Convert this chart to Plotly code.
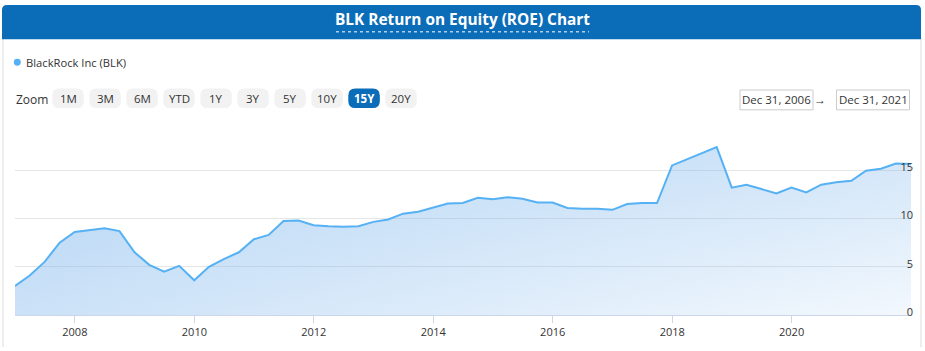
import plotly.graph_objects as go

# ---------------- data ----------------
dates = [
    "2006-12-31",
    "2007-03-31", "2007-06-30", "2007-09-30", "2007-12-31",
    "2008-03-31", "2008-06-30", "2008-09-30", "2008-12-31",
    "2009-03-31", "2009-06-30", "2009-09-30", "2009-12-31",
    "2010-03-31", "2010-06-30", "2010-09-30", "2010-12-31",
    "2011-03-31", "2011-06-30", "2011-09-30", "2011-12-31",
    "2012-03-31", "2012-06-30", "2012-09-30", "2012-12-31",
    "2013-03-31", "2013-06-30", "2013-09-30", "2013-12-31",
    "2014-03-31", "2014-06-30", "2014-09-30", "2014-12-31",
    "2015-03-31", "2015-06-30", "2015-09-30", "2015-12-31",
    "2016-03-31", "2016-06-30", "2016-09-30", "2016-12-31",
    "2017-03-31", "2017-06-30", "2017-09-30", "2017-12-31",
    "2018-03-31", "2018-06-30", "2018-09-30", "2018-12-31",
    "2019-03-31", "2019-06-30", "2019-09-30", "2019-12-31",
    "2020-03-31", "2020-06-30", "2020-09-30", "2020-12-31",
    "2021-03-31", "2021-06-30", "2021-09-30", "2021-12-31",
]
roe = [
    3.0,
    4.1, 5.5, 7.5, 8.6,
    8.8, 9.0, 8.7, 6.5,
    5.2, 4.5, 5.1, 3.6,
    5.0, 5.8, 6.5, 7.85,
    8.3, 9.75, 9.8, 9.3,
    9.2, 9.15, 9.2, 9.65,
    9.9, 10.5, 10.7, 11.1,
    11.55, 11.6, 12.15, 12.0,
    12.2, 12.05, 11.65, 11.65,
    11.1, 11.0, 11.0, 10.9,
    11.5, 11.6, 11.6, 15.5,
    16.1, 16.75, 17.4, 13.2,
    13.5, 13.05, 12.6, 13.2,
    12.7, 13.5, 13.75, 13.9,
    14.95, 15.15, 15.7, 15.65,
]
series_name = "BlackRock Inc (BLK)"
title_text = "BLK Return on Equity (ROE) Chart"
zoom_buttons = ["1M", "3M", "6M", "YTD", "1Y", "3Y", "5Y", "10Y", "15Y", "20Y"]
selected_button = "15Y"
range_start_label = "Dec 31, 2006"
range_end_label = "Dec 31, 2021"
x_range = ["2006-12-31", "2021-12-31"]
y_range = [0, 20]
y_tickvals = [0, 5, 10, 15, 20]
y_ticktext = ["0", "5", "10", "15", ""]

# ---------------- layout geometry (pixels) ----------------
W, H = 925, 351
PL, PR, PT, PB = 15, 911, 122, 320
FONT = "Open Sans"
LINE_COLOR = "#55b1f4"
BLUE = "#0b6db7"
TXT = "#333333"


def px(x):
    return (x - PL) / (PR - PL)


def py(y):
    return (PB - y) / (PB - PT)


def rounded_rect(x0, y0, x1, y1, r, top_only=False):
    rb = 0 if top_only else r
    pts = [
        f"M{px(x0)},{py(y1 - rb)}",
        f"L{px(x0)},{py(y0 + r)}",
        f"Q{px(x0)},{py(y0)} {px(x0 + r)},{py(y0)}",
        f"L{px(x1 - r)},{py(y0)}",
        f"Q{px(x1)},{py(y0)} {px(x1)},{py(y0 + r)}",
        f"L{px(x1)},{py(y1 - rb)}",
    ]
    if rb:
        pts += [
            f"Q{px(x1)},{py(y1)} {px(x1 - rb)},{py(y1)}",
            f"L{px(x0 + rb)},{py(y1)}",
            f"Q{px(x0)},{py(y1)} {px(x0)},{py(y1 - rb)}",
        ]
    else:
        pts += [f"L{px(x0)},{py(y1)}"]
    return " ".join(pts) + " Z"


fig = go.Figure()

# horizontal-gradient fill layer
fig.add_trace(go.Scatter(
    x=dates, y=roe, mode="lines", line=dict(width=0),
    fill="tozeroy",
    fillgradient=dict(type="horizontal",
                      colorscale=[[0, "rgba(124,181,236,0.38)"], [1, "rgba(124,181,236,0.07)"]]),
    hoverinfo="skip", showlegend=False,
))
# vertical-gradient fill layer + line
fig.add_trace(go.Scatter(
    x=dates, y=roe, mode="lines", name=series_name,
    line=dict(color=LINE_COLOR, width=2),
    fill="tozeroy",
    fillgradient=dict(type="vertical",
                      colorscale=[[0, "rgba(124,181,236,0.03)"], [1, "rgba(124,181,236,0.30)"]]),
    showlegend=False,
))
# invisible carrier so the right-hand label axis is drawn
fig.add_trace(go.Scatter(
    x=dates, y=roe, mode="lines", line=dict(width=0, color="rgba(0,0,0,0)"),
    yaxis="y2", hoverinfo="skip", showlegend=False,
))

shapes = []
annotations = []

# panel borders
for xb in (3, 921):
    shapes.append(dict(type="line", xref="paper", yref="paper",
                       x0=px(xb), x1=px(xb), y0=py(36), y1=py(H + 2),
                       line=dict(color="#dcdcdc", width=1), layer="below"))

# title bar
shapes.append(dict(type="path", xref="paper", yref="paper",
                   path=rounded_rect(2, 2, 921, 37, 5, top_only=True),
                   fillcolor=BLUE, line=dict(width=0)))
# dotted underline of title
shapes.append(dict(type="line", xref="paper", yref="paper",
                   x0=px(336), x1=px(589), y0=py(29.5), y1=py(29.5),
                   line=dict(color="white", width=1, dash="dot")))

# legend dot + label
shapes.append(dict(type="circle", xref="paper", yref="paper",
                   x0=px(13.8), x1=px(20.8), y0=py(57.2), y1=py(64.2),
                   fillcolor=LINE_COLOR, line=dict(width=0)))
annotations.append(dict(text=series_name, xref="paper", yref="paper",
                        x=px(24), y=py(60.5), xanchor="left", yanchor="middle",
                        showarrow=False, font=dict(family=FONT, size=11.2, color=TXT)))

# zoom label + buttons
annotations.append(dict(text="Zoom", xref="paper", yref="paper",
                        x=px(14), y=py(98.5), xanchor="left", yanchor="middle",
                        showarrow=False, font=dict(family=FONT, size=12, color=TXT)))
for i, lab in enumerate(zoom_buttons):
    x0 = 52.3 + i * 37
    x1 = x0 + 31.5
    sel = lab == selected_button
    shapes.append(dict(type="path", xref="paper", yref="paper",
                       path=rounded_rect(x0, 87.7, x1, 107.7, 7),
                       fillcolor=BLUE if sel else "#f2f2f2", line=dict(width=0)))
    annotations.append(dict(text=f"<b>{lab}</b>" if sel else lab, xref="paper", yref="paper",
                            x=px((x0 + x1) / 2), y=py(98), xanchor="center", yanchor="middle",
                            showarrow=False,
                            font=dict(family=FONT, size=11.5, color="white" if sel else TXT)))

# date range inputs
for (bx0, bx1, lab) in ((740, 813, range_start_label), (836.5, 909.5, range_end_label)):
    shapes.append(dict(type="rect", xref="paper", yref="paper",
                       x0=px(bx0), x1=px(bx1), y0=py(89.2), y1=py(109.5),
                       fillcolor="white", line=dict(color="#cccccc", width=1)))
    annotations.append(dict(text=lab, xref="paper", yref="paper",
                            x=px((bx0 + bx1) / 2), y=py(99.3), xanchor="center", yanchor="middle",
                            showarrow=False, font=dict(family=FONT, size=11.5, color=TXT)))
annotations.append(dict(text="→", xref="paper", yref="paper",
                        x=px(820), y=py(98.8), xanchor="center", yanchor="middle",
                        showarrow=False, font=dict(family=FONT, size=12, color=TXT)))

fig.update_layout(
    width=W, height=H,
    margin=dict(l=PL, r=W - PR, t=PT, b=H - PB, pad=0),
    paper_bgcolor="white", plot_bgcolor="white",
    showlegend=False,
    title=dict(text=f"<b>{title_text}</b>", x=0.5, xref="container", xanchor="center",
               y=1 - 19.5 / H, yref="container", yanchor="middle",
               font=dict(family=FONT, size=15.4, color="white")),
    font=dict(family=FONT, color=TXT),
    shapes=shapes, annotations=annotations,
    hovermode="x",
)
fig.update_xaxes(
    type="date", range=x_range, dtick="M24", tick0="2008-01-01", tickformat="%Y",
    showgrid=False, zeroline=False, showline=True, linecolor="#ccd6eb", linewidth=1,
    ticks="outside", ticklen=7, tickcolor="#ccd6eb", tickwidth=1,
    tickfont=dict(family=FONT, size=11, color=TXT), fixedrange=True,
)
# main y axis: gridlines only
fig.update_layout(yaxis=dict(
    range=y_range, tickvals=y_tickvals, showticklabels=False,
    showgrid=True, gridcolor="#e6e6e6", gridwidth=1, zeroline=False, showline=False,
    ticks="", fixedrange=True,
))
# label axis: sits on the right edge of the plot, labels drawn to its left
fig.update_layout(yaxis2=dict(
    overlaying="y", anchor="free", position=1.0, side="left",
    range=y_range, tickvals=y_tickvals, ticktext=y_ticktext,
    ticklabelposition="outside", ticklabelshift=-3, ticklabelstandoff=-2,
    showgrid=False, zeroline=False, showline=False, ticks="",
    tickfont=dict(family=FONT, size=11, color=TXT), fixedrange=True,
))

fig.write_html("out.html")
